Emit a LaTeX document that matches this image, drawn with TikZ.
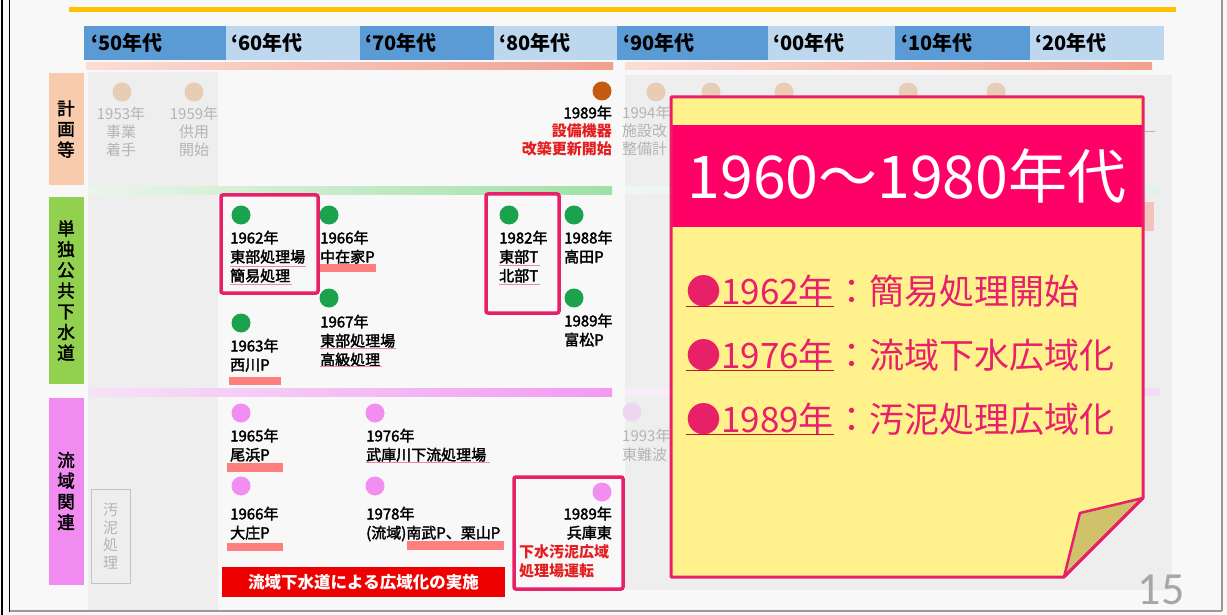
\documentclass[tikz,border=0pt]{standalone}
\usepackage{fontspec}
\setmainfont{Noto Sans CJK JP}
\newfontfamily\medfont{Noto Sans CJK JP}[FakeBold=2.2]
\newfontfamily\pagefont{Carlito}
\definecolor{pagebg}{HTML}{F8F8F8}
\definecolor{colgray}{HTML}{EEEEEE}
\definecolor{hdDark}{HTML}{5B9BD5}
\definecolor{hdLight}{HTML}{BDD7EE}
\definecolor{goldline}{HTML}{FFC000}
\definecolor{catpeach}{HTML}{F8CBAD}
\definecolor{catgreen}{HTML}{92D050}
\definecolor{catviolet}{HTML}{F08CF0}
\definecolor{dotgreen}{HTML}{1BA24C}
\definecolor{dotviolet}{HTML}{F28DF2}
\definecolor{dotpeach}{HTML}{E8CDB6}
\definecolor{dotorange}{HTML}{C55A11}
\definecolor{dotfadev}{HTML}{EED6F0}
\definecolor{fadegray}{HTML}{B4B4B4}
\definecolor{boxred}{HTML}{E8206A}
\definecolor{barsalmon}{HTML}{FF7F7F}
\definecolor{bannerred}{HTML}{EE0000}
\definecolor{txtred}{HTML}{E41E1E}
\definecolor{ulpink}{HTML}{F08A9A}
\definecolor{stickyyellow}{HTML}{FFF28C}
\definecolor{stickypink}{HTML}{FF0066}
\definecolor{foldolive}{HTML}{CFC26A}
\definecolor{ulred}{HTML}{C8102E}
\definecolor{pagenum}{HTML}{A6A6A6}
\definecolor{salA}{HTML}{FBDDD6}
\definecolor{salB}{HTML}{F0A090}
\definecolor{grnA}{HTML}{EAF5EA}
\definecolor{grnB}{HTML}{9FE0A5}
\definecolor{grnC}{HTML}{F0F6F0}
\definecolor{grnD}{HTML}{E2F3E6}
\definecolor{pnkA}{HTML}{F6E2F6}
\definecolor{pnkB}{HTML}{F29AF2}
\definecolor{pnkC}{HTML}{F6EEF6}
\definecolor{pnkD}{HTML}{F4DCF4}
\definecolor{fadesalmon}{HTML}{F4C4BC}
\begin{document}
\begin{tikzpicture}[x=1pt,y=-1pt,
 dot/.style={circle, inner sep=0pt, minimum size=19pt},
 gdot/.style={dot, fill=dotgreen},
 vdot/.style={dot, fill=dotviolet},
 pdot/.style={dot, fill=dotpeach},
 tx/.style={inner sep=0pt, anchor=north west, align=left, font=\medfont\fontsize{15}{19}\selectfont},
 txr/.style={inner sep=0pt, anchor=north east, align=right, font=\medfont\fontsize{15}{19}\selectfont},
 gtx/.style={inner sep=0pt, anchor=north, align=center, font=\fontsize{15}{18}\selectfont, text=fadegray},
 hilite/.style={draw=boxred, line width=3.5pt, rounded corners=2pt},
 catbox/.style={inner sep=0pt, align=center, font=\medfont\fontsize{17.5}{20.7}\selectfont, minimum width=35pt},
 hdr/.style={anchor=base west, inner sep=0pt, font=\fontsize{20}{20}\selectfont\bfseries},
 uline/.style={draw=ulpink, line width=0.7pt},
 stk/.style={anchor=base west, inner sep=0pt, text=boxred, font=\fontsize{35}{40}\selectfont},
]
\useasboundingbox (0,0) rectangle (1227,615);
\fill[pagebg] (0,0) rectangle (1227,615);
% gray columns
\fill[colgray] (88,72) rectangle (218,611);
\fill[colgray] (625,75) rectangle (1172,590);
% gold line
\fill[goldline] (69,7) rectangle (1176,12);
% header
\fill[hdDark] (84,26) rectangle (226,60);
\fill[hdLight] (226,26) rectangle (360,60);
\fill[hdDark] (360,26) rectangle (494,60);
\fill[hdLight] (494,26) rectangle (617,60);
\fill[hdDark] (617,26) rectangle (768,60);
\fill[hdLight] (768,26) rectangle (895,60);
\fill[hdDark] (895,26) rectangle (1030,60);
\fill[hdLight] (1030,26) rectangle (1164,60);
\node[hdr] (h50) at (91,51) {‘50年代};
\node[hdr] (h60) at (231,51) {‘60年代};
\node[hdr] (h70) at (365,51) {‘70年代};
\node[hdr] (h80) at (499,51) {‘80年代};
\node[hdr] (h90) at (623,51) {‘90年代};
\node[hdr] (h00) at (773,51) {‘00年代};
\node[hdr] (h10) at (901,51) {‘10年代};
\node[hdr] (h20) at (1035,51) {‘20年代};
% separator bars
\shade[left color=salA, right color=salB] (86,63) rectangle (613,70);
\shade[left color=salA, right color=salB] (625,63) rectangle (1152,70);
\shade[left color=grnA, right color=grnB] (88,187) rectangle (612,195);
\shade[left color=grnC, right color=grnD] (625,187) rectangle (1160,194);
\shade[left color=pnkA, right color=pnkB] (88,388) rectangle (612,396);
\shade[left color=pnkC, right color=pnkD] (625,388) rectangle (1160,395);
% category labels
\node[catbox, fill=catpeach, minimum height=112pt] (c1) at (66,129) {計\\画\\等};
\node[catbox, fill=catgreen, minimum height=187pt] (c2) at (66,290.5) {単\\独\\公\\共\\下\\水\\道};
\node[catbox, fill=catviolet, minimum height=187pt] (c3) at (66,491) {流\\域\\関\\連};
\node[draw=fadegray!80, fill=colgray, inner sep=0pt, minimum width=39pt, minimum height=94pt, align=center, text=fadegray, font=\fontsize{15}{17.7}\selectfont] (sludge) at (110.5,536) {汚\\泥\\処\\理};
% planning row
\node[pdot] (p1) at (122,92) {};
\node[pdot] (p2) at (194,92) {};
\node[dot, fill=dotorange] (p3) at (602,91) {};
\node[pdot] (p4) at (656,92) {};
\node[pdot] (p5) at (711,92) {};
\node[pdot] (p6) at (784,92) {};
\node[pdot] (p7) at (908,92) {};
\node[pdot] (p8) at (996,92) {};
\node[gtx] (t53) at (121,106.5) {1953年\\事業\\着手};
\node[gtx] (t59) at (194,106.5) {1959年\\供用\\開始};
\node[txr, font=\medfont\fontsize{15}{18}\selectfont] (t89a) at (612,105.5) {1989年\\\textcolor{txtred}{\normalfont\fontsize{15}{18}\selectfont\bfseries 設備機器}\\\textcolor{txtred}{\normalfont\fontsize{15}{18}\selectfont\bfseries 改築更新開始}};
\node[tx, text=fadegray, font=\fontsize{15}{18}\selectfont] (t94) at (622,105.5) {1994年\\施設改\\整備計};
\fill[fadegray] (1145,131) rectangle (1155,132.2);
\fill[fadesalmon] (1143,202) rectangle (1154,231);
% single sewer row
\node[gdot] (g62) at (241,215) {};
\node[gdot] (g66) at (329,215) {};
\node[gdot] (g67) at (329,298) {};
\node[gdot] (g63) at (241,323) {};
\node[gdot] (g82) at (509,215) {};
\node[gdot] (g88) at (574,215) {};
\node[gdot] (g89) at (574,298) {};
\fill[barsalmon] (320,264) rectangle (376,272);
\fill[barsalmon] (229,377) rectangle (281,385);
\node[tx] (t62) at (230,230.5) {1962年\\東部処理場\\簡易処理};
\node[tx] (t66) at (320,230.5) {1966年\\中在家P};
\node[tx] (t67) at (320,314.5) {1967年\\東部処理場\\高級処理};
\node[tx] (t63) at (230,338.5) {1963年\\西川P};
\node[tx] (t82) at (499,230.5) {1982年\\東部T\\北部T};
\node[tx] (t88) at (564,230.5) {1988年\\高田P};
\node[tx] (t89b) at (564,313.5) {1989年\\富松P};
\draw[uline] (230,266) -- (306,266);
\draw[uline] (230,284) -- (292,284);
\draw[uline] (320,348) -- (396,348);
\draw[uline] (320,366) -- (382,366);
\draw[uline] (499,265) -- (540,265);
\draw[uline] (499,284) -- (540,284);
\draw[hilite] (221,195) rectangle (318,293);
\draw[hilite] (486,194) rectangle (559,313);
% basin row
\node[vdot] (v65) at (241,413) {};
\node[vdot] (v76) at (375,413) {};
\node[vdot] (v66) at (241,486) {};
\node[vdot] (v78) at (375,486) {};
\node[vdot] (v89) at (602,492) {};
\node[dot, fill=dotfadev] (v93) at (632,412) {};
\fill[barsalmon] (227,463) rectangle (283,472);
\fill[barsalmon] (227,543) rectangle (283,551);
\fill[barsalmon] (407,541) rectangle (504,550);
\node[tx] (t65) at (230,428.5) {1965年\\尾浜P};
\node[tx] (t76) at (366,428.5) {1976年\\武庫川下流処理場};
\node[tx] (t66b) at (230,506.5) {1966年\\大庄P};
\node[tx] (t78) at (366,506.5) {1978年\\(流域)南武P、栗山P};
\node[txr] (t89c) at (612,506.5) {1989年\\兵庫東};
\node[tx, text=txtred, font=\fontsize{15}{19}\selectfont\bfseries] (t89d) at (519,544.5) {下水汚泥広域\\処理場運転};
\node[tx, text=fadegray, font=\fontsize{15}{19}\selectfont] (t93) at (622,428.5) {1993年\\東難波};
\draw[uline] (366,462) -- (490,462);
\draw[hilite] (514,477) rectangle (623,589);
\node[fill=bannerred, text=white, inner sep=0pt, minimum width=283pt, minimum height=30pt, font=\fontsize{16.5}{18}\selectfont\bfseries] (banner) at (363.5,582) {流域下水道による広域化の実施};
% sticky note
\fill[stickyyellow] (671,97) -- (1143,97) -- (1143,498) -- (1064,577) -- (671,577) -- cycle;
\fill[stickypink] (671,125) rectangle (1143,227);
\node[anchor=base, inner sep=0pt, text=white, font=\fontsize{59}{62}\selectfont] (title) at (907,199) {1960～1980年代};
\filldraw[fill=foldolive, draw=boxred, line width=2.5pt, line join=round] (1143,498) -- (1080,513) -- (1064,577) -- cycle;
\draw[boxred, line width=3pt, line join=round] (671,97) -- (1143,97) -- (1143,498) -- (1064,577) -- (671,577) -- cycle;
\node[stk] (s1a) at (686,304) {●1962年};
\node[stk] (s1b) at (s1a.base east) {：簡易処理開始};
\node[stk] (s2a) at (686,368) {●1976年};
\node[stk] (s2b) at (s2a.base east) {：流域下水広域化};
\node[stk] (s3a) at (686,432) {●1989年};
\node[stk] (s3b) at (s3a.base east) {：汚泥処理広域化};
\draw[ulred, line width=1.6pt] ([yshift=-2.5pt]s1a.base west) -- ([yshift=-2.5pt]s1a.base east);
\draw[ulred, line width=1.6pt] ([yshift=-2.5pt]s2a.base west) -- ([yshift=-2.5pt]s2a.base east);
\draw[ulred, line width=1.6pt] ([yshift=-2.5pt]s3a.base west) -- ([yshift=-2.5pt]s3a.base east);
% page number
\node[anchor=base, inner sep=0pt, text=pagenum, font=\pagefont\fontsize{46}{48}\selectfont] (pg) at (1161,604) {15};
% borders
\draw[black, line width=2.5pt] (2,0) -- (2,615);
\draw[black, line width=1.8pt] (9.5,0) -- (9.5,612);
\draw[gray!80, line width=1.5pt] (9.5,611) -- (1222,611);
\draw[gray!80, line width=1.5pt] (1222,0) -- (1222,611);
\end{tikzpicture}
\end{document}
